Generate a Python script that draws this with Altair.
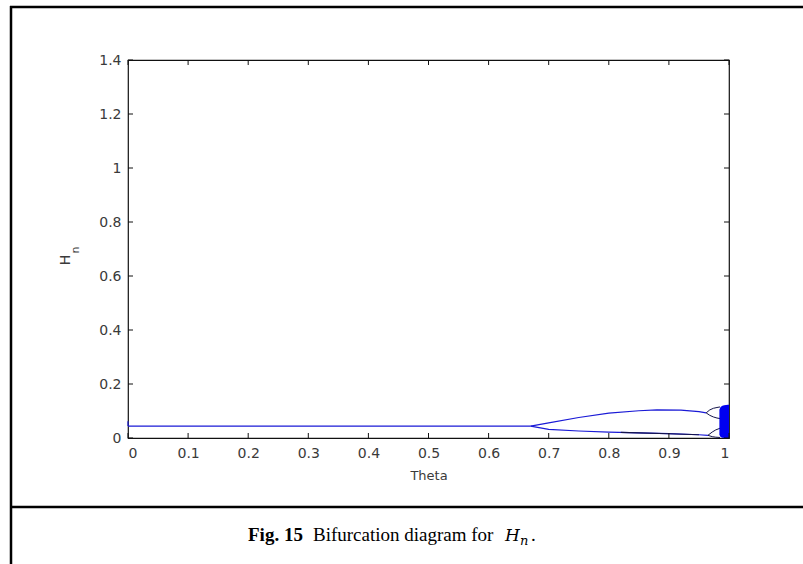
import altair as alt
import pandas as pd

# ---- bifurcation branches (Theta, H_n) ----
# single fixed point before the first period doubling
main_theta = [0.0, 0.1, 0.2, 0.3, 0.4, 0.5, 0.6, 0.67]
main_h = [0.044, 0.044, 0.044, 0.044, 0.044, 0.044, 0.044, 0.044]

# period-2 upper branch
up_theta = [0.67, 0.70, 0.75, 0.80, 0.85, 0.88, 0.92, 0.95, 0.962]
up_h = [0.044, 0.056, 0.076, 0.092, 0.101, 0.104, 0.103, 0.098, 0.093]

# period-2 lower branch
low_theta = [0.67, 0.70, 0.75, 0.80, 0.85, 0.90, 0.95, 0.965]
low_h = [0.044, 0.032, 0.026, 0.022, 0.019, 0.016, 0.012, 0.010]

# period-4 sub-branches
p4a_theta = [0.962, 0.968, 0.974, 0.980, 0.985]
p4a_h = [0.093, 0.104, 0.110, 0.113, 0.115]
p4b_theta = [0.962, 0.968, 0.974, 0.980, 0.985]
p4b_h = [0.093, 0.084, 0.078, 0.074, 0.072]
p4c_theta = [0.965, 0.972, 0.978, 0.985]
p4c_h = [0.010, 0.022, 0.030, 0.036]
p4d_theta = [0.965, 0.972, 0.978, 0.985]
p4d_h = [0.010, 0.005, 0.003, 0.002]

# chaotic band near Theta = 1
band_theta = [0.984, 0.986, 0.989, 0.992, 0.995, 0.998, 1.0]
band_hi = [0.105, 0.115, 0.119, 0.121, 0.122, 0.123, 0.123]
band_lo = [0.012, 0.004, 0.001, 0.0, 0.0, 0.0, 0.0]

# start-up transient at Theta = 0
start_theta = [0.0, 0.0]
start_h = [0.044, 0.062]

x_ticks = [0, 0.1, 0.2, 0.3, 0.4, 0.5, 0.6, 0.7, 0.8, 0.9, 1.0]
y_ticks = [0, 0.2, 0.4, 0.6, 0.8, 1.0, 1.2, 1.4]

W, H = 601, 378
BLUE = "#1a1ad6"
NAVY = "#14144a"
FONT = "DejaVu Sans"
GREY = "#3a3a3a"

xs = alt.Scale(domain=[0, 1], nice=False, zero=False)
ys = alt.Scale(domain=[0, 1.4], nice=False)


def branch(th, hv, name):
    return pd.DataFrame({"theta": th, "h": hv, "branch": name})


lines_df = pd.concat([
    branch(main_theta, main_h, "main"),
    branch(up_theta, up_h, "up"),
    branch(low_theta, low_h, "low"),
    branch(start_theta, start_h, "start"),
])
p4_df = pd.concat([
    branch(p4a_theta, p4a_h, "a"),
    branch(p4b_theta, p4b_h, "b"),
    branch(p4c_theta, p4c_h, "c"),
    branch(p4d_theta, p4d_h, "d"),
])
band_df = pd.DataFrame({"theta": band_theta, "hi": band_hi, "lo": band_lo})

x_enc = alt.X("theta:Q", scale=xs, title="Theta",
              axis=alt.Axis(values=x_ticks, format="~g", tickSize=0, domain=False,
                            grid=False, labelPadding=8, labelFont=FONT, labelFontSize=14,
                            labelColor=GREY, titleFont=FONT, titleFontSize=13,
                            titleFontWeight="normal", titleColor=GREY, titlePadding=9))
y_enc = alt.Y("h:Q", scale=ys, title=None,
              axis=alt.Axis(values=y_ticks, format="~g", tickSize=0, domain=False,
                            grid=False, labelPadding=7, labelFont=FONT, labelFontSize=14,
                            labelColor=GREY))

lines = alt.Chart(lines_df).mark_line(color=BLUE, strokeWidth=1.2).encode(
    x=x_enc, y=y_enc, detail="branch:N", order="theta:Q")

dark_low = alt.Chart(branch([0.82, 0.85, 0.90, 0.95], [0.021, 0.019, 0.016, 0.012], "dk"))\
    .mark_line(color=NAVY, strokeWidth=1.1).encode(x="theta:Q", y="h:Q")

p4 = alt.Chart(p4_df).mark_line(color=NAVY, strokeWidth=1.0).encode(
    x="theta:Q", y="h:Q", detail="branch:N", order="theta:Q")

band = alt.Chart(band_df).mark_area(color="#0000f0", opacity=1).encode(
    x="theta:Q", y="lo:Q", y2="hi:Q")

# inward ticks on all four sides of the box
xt = pd.DataFrame({"theta": x_ticks})
yt = pd.DataFrame({"h": y_ticks})
tick_style = dict(color="#111111", strokeWidth=1)
ticks = [
    alt.Chart(xt).mark_rule(**tick_style).encode(x="theta:Q", y=alt.value(H), y2=alt.value(H - 5)),
    alt.Chart(xt).mark_rule(**tick_style).encode(x="theta:Q", y=alt.value(0), y2=alt.value(5)),
    alt.Chart(yt).mark_rule(**tick_style).encode(y="h:Q", x=alt.value(0), x2=alt.value(5)),
    alt.Chart(yt).mark_rule(**tick_style).encode(y="h:Q", x=alt.value(W), x2=alt.value(W - 5)),
]

one = pd.DataFrame({"k": [0]})

# y-axis title H with subscript n
y_title = [
    alt.Chart(one).mark_text(text="H", font=FONT, fontSize=14, angle=270,
                             color=GREY).encode(x=alt.value(-62), y=alt.value(200)),
    alt.Chart(one).mark_text(text="n", font=FONT, fontSize=11, angle=270,
                             color=GREY).encode(x=alt.value(-52), y=alt.value(190)),
]

# figure frame and caption panel
frame_style = dict(color="black", strokeWidth=2.5)
frame = [
    alt.Chart(one).mark_rule(**frame_style).encode(
        x=alt.value(-118), x2=alt.value(676), y=alt.value(-53)),
    alt.Chart(one).mark_rule(**frame_style).encode(
        x=alt.value(-117), y=alt.value(-54), y2=alt.value(505)),
    alt.Chart(one).mark_rule(**frame_style).encode(
        x=alt.value(-118), x2=alt.value(676), y=alt.value(447)),
]

cap_y = 481
caption = [
    alt.Chart(one).mark_text(text="Fig. 15", font="Liberation Serif", fontSize=19,
                             fontWeight="bold", align="left", baseline="alphabetic",
                             color="black").encode(x=alt.value(120), y=alt.value(cap_y)),
    alt.Chart(one).mark_text(text="Bifurcation diagram for", font="Liberation Serif",
                             fontSize=19, align="left", baseline="alphabetic",
                             color="black").encode(x=alt.value(185), y=alt.value(cap_y)),
    alt.Chart(one).mark_text(text="H", font="DejaVu Serif", fontSize=17, fontStyle="italic",
                             align="left", baseline="alphabetic",
                             color="black").encode(x=alt.value(377), y=alt.value(cap_y)),
    alt.Chart(one).mark_text(text="n", font="DejaVu Serif", fontSize=13, fontStyle="italic",
                             align="left", baseline="alphabetic",
                             color="black").encode(x=alt.value(392), y=alt.value(cap_y + 4)),
    alt.Chart(one).mark_text(text=".", font="Liberation Serif", fontSize=19,
                             align="left", baseline="alphabetic",
                             color="black").encode(x=alt.value(403), y=alt.value(cap_y)),
]

chart = alt.layer(
    lines, dark_low, p4, band, *ticks, *y_title, *frame, *caption
).properties(
    width=W, height=H,
    padding={"left": 128, "top": 60, "right": 74, "bottom": 126},
    autosize=alt.AutoSizeParams(type="none"),
    background="white",
).configure_view(stroke="#111111", strokeWidth=1.2)

chart.save("out.html", embed_options={"renderer": "svg", "actions": False})
